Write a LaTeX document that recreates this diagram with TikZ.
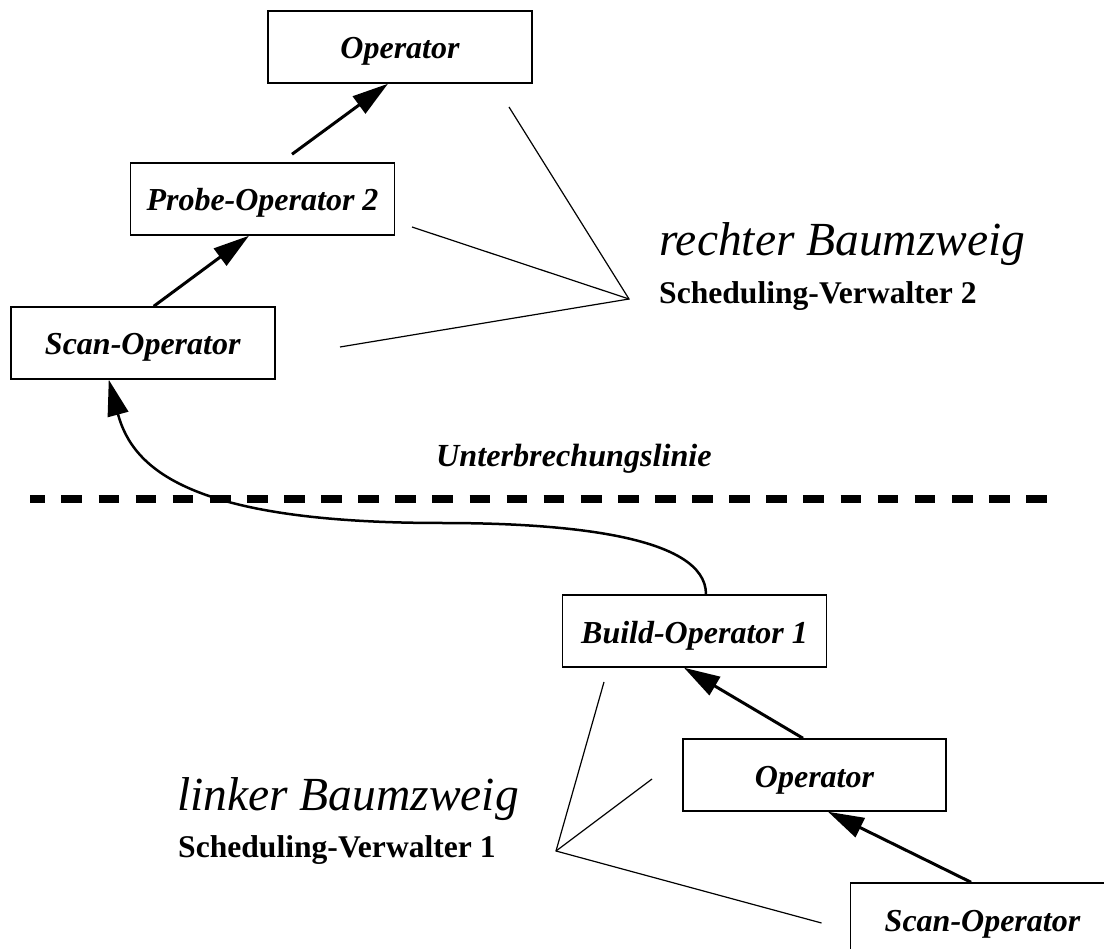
\documentclass[tikz,border=0pt]{standalone}
\usepackage{fontspec}
\setmainfont{Liberation Serif}
\usetikzlibrary{arrows.meta}
\begin{document}
\begin{tikzpicture}[x=1pt,y=-1pt,
  opbox/.style={draw,line width=1.5pt,minimum width=264pt,minimum height=72pt,
    inner sep=0pt,text height=24pt,text depth=0pt,
    font=\fontsize{32}{36}\selectfont\bfseries\itshape},
  flow/.style={line width=3pt,-{Triangle[length=36pt,width=21pt]}},
  jump/.style={line width=2.5pt,-{Triangle[length=36pt,width=21pt]}},
  leader/.style={line width=1.2pt},
  branch/.style={font=\fontsize{47.5}{52}\selectfont\itshape,anchor=base west,inner sep=0pt},
  manager/.style={font=\fontsize{31.6}{36}\selectfont\bfseries,anchor=base west,inner sep=0pt},
  cutlabel/.style={font=\fontsize{32.2}{36}\selectfont\bfseries\itshape,anchor=base west,inner sep=0pt},
  cutline/.style={line width=7.5pt,dash pattern=on 20.7pt off 16.4pt,dash phase=5.7pt}]
\useasboundingbox (0,0) rectangle (1104,949);
\clip (0,0) rectangle (1104,949);

% right branch of the tree
\node[opbox] (opTop) at (400,47) {Operator};
\node[opbox] (probe) at (262.5,199) {Probe-Operator 2};
\node[opbox] (scanTop) at (142.75,343) {Scan-Operator};

% left branch of the tree
\node[opbox] (build) at (694.5,631) {Build-Operator 1};
\node[opbox,minimum width=263pt] (opMid) at (814.5,775) {Operator};
\node[opbox] (scanBot) at (982.5,919) {Scan-Operator};

% data flow
\draw[flow] ([shift={(29.5pt,8pt)}]probe.north) -- ([xshift=-12pt]opTop.south);
\draw[flow] ([xshift=11pt]scanTop.north) -- ([xshift=-13.5pt]probe.south);
\draw[flow] ([xshift=-11.5pt]opMid.north) -- ([xshift=-10.5pt]build.south);
\draw[flow] ([xshift=-11.5pt]scanBot.north) -- ([xshift=13.5pt]opMid.south);

% interruption line
\coordinate (cutA) at (30,499);
\coordinate (cutB) at (1047,499);
\draw[cutline] (cutA) -- (cutB);
\node[cutlabel] (cut) at (436,467) {Unterbrechungslinie};

% jump across the interruption
\draw[jump] ([xshift=11.5pt]build.north)
  .. controls (706,535) and (562,523) .. (442,523)
  .. controls (192,523) and (133,470) .. ([xshift=-34pt]scanTop.south);

% leader lines of the right branch
\coordinate (v2) at (629,299);
\coordinate (r1) at (509,107);
\coordinate (r2) at (412,227);
\coordinate (r3) at (340,347);
\draw[leader] (r1) -- (v2) -- (r3);
\draw[leader] (r2) -- (v2);
\node[branch] (rb) at (659,256) {rechter Baumzweig};
\node[manager] (sv2) at (659,304) {Scheduling-Verwalter 2};

% leader lines of the left branch
\coordinate (v1) at (556,851);
\coordinate (l1) at (604,682);
\coordinate (l2) at (652,779);
\coordinate (l3) at (821.5,923);
\draw[leader] (l1) -- (v1) -- (l3);
\draw[leader] (l2) -- (v1);
\node[branch] (lb) at (177,810) {linker Baumzweig};
\node[manager] (sv1) at (178,857) {Scheduling-Verwalter 1};
\end{tikzpicture}
\end{document}
